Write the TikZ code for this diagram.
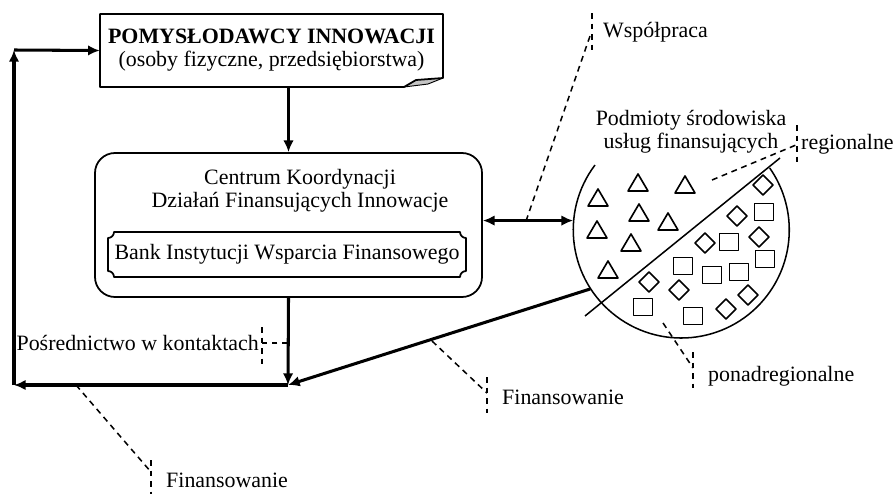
\documentclass[tikz,border=0pt]{standalone}
\usepackage{fontspec}
\setmainfont{Liberation Serif}
\usetikzlibrary{arrows.meta}
\definecolor{foldgray}{HTML}{c4c4c4}
\newcommand{\drawtriangles}{
  \foreach \x/\y in {638/183, 685/185, 598/198, 639/213, 668/222, 597/230, 631/243, 608/270} {
    \draw[symbol] (\x-10,\y+8) -- (\x,\y-9) -- (\x+10,\y+8) -- cycle;
  }
}
\newcommand{\drawdiamonds}{
  \foreach \x/\y in {763/185, 737/216, 705/243, 759/237, 649/282, 679/290, 748/295, 726/309} {
    \draw[symbol] (\x-10,\y) -- (\x,\y-10) -- (\x+10,\y) -- (\x,\y+10) -- cycle;
  }
}
\newcommand{\drawsquares}{
  \foreach \x/\y in {764/212, 729/242, 683/266, 712/275, 739/272, 765/259, 643/307, 693/316} {
    \draw[symbol] (\x-9.5,\y-8.5) rectangle (\x+9.5,\y+8.5);
  }
}

\begin{document}
\begin{tikzpicture}[x=0.03cm, y=-0.03cm, line join=round,
    every node/.style={font=\fontsize{18.7}{19.6}\selectfont, inner sep=0pt},
    box/.style={draw, line width=1.5pt},
    flow/.style={line width=2.6pt, -{Latex[length=10pt,width=9pt]}},
    lead/.style={dashed, line width=1.3pt, dash pattern=on 5pt off 4pt},
    symbol/.style={line width=1.4pt}]
    \useasboundingbox (0,0) rectangle (894,494);

    % inventors box with folded corner
    \node[align=center, minimum width=10.29cm, minimum height=2.19cm] (pomysl) at (271.5,50.5)
      {\textbf{POMYSŁODAWCY INNOWACJI}\\(osoby fizyczne, przedsiębiorstwa)};
    \fill[foldgray] (404,87) -- (416,80) -- (443,78) -- (428,84) -- cycle;
    \draw[box] (100,14) -- (443,14) -- (443,78) -- (416,80) -- (404,87) -- (100,87) -- cycle;
    \draw[line width=0.8pt] (404,87) -- (428,84) -- (443,78);

    % coordination centre
    \node[box, rounded corners=0.6cm, minimum width=11.61cm, minimum height=4.32cm] (centrum) at (288.5,225) {};
    \node[align=center] (centrumtxt) at (300,191) {Centrum Koordynacji\\Działań Finansujących Innowacje};
    \node[minimum width=10.74cm, minimum height=1.35cm] (bank) at (287,254.5) {Bank Instytucji Wsparcia Finansowego};
    \draw[box] (108,238) .. controls (111.3,238) and (114,235.3) .. (114,232) -- (460,232)
      .. controls (460,235.3) and (462.7,238) .. (466,238) -- (466,271)
      .. controls (462.7,271) and (460,273.7) .. (460,277) -- (114,277)
      .. controls (114,273.7) and (111.3,271) .. (108,271) -- cycle;

    % financing entities
    \node[circle, minimum size=6.48cm] (podm) at (681,230) {};
    \draw[line width=1.3pt] (595,165) arc[start angle=143, end angle=395, radius=3.24cm];
    \draw[line width=1.3pt] (585,316) -- (780,158);
    \drawtriangles{}
    \drawdiamonds{}
    \drawsquares{}
    \node[align=center] (podmtxt) at (691,132) {Podmioty środowiska\\usług finansujących};

    % flows
    \coordinate (join) at (288,385);
    \coordinate (bl) at (14,385);
    \coordinate (tl) at (14,50);
    \draw[flow] (centrum.north |- pomysl.south) -- (centrum.north);
    \draw[flow] (centrum.south) -- (join);
    \draw[flow] (podm.213) -- (join);
    \draw[flow] (join) -- (bl);
    \draw[flow] (bl) -- (tl);
    \draw[flow] (tl) -- (pomysl.west);
    \draw[flow, {Latex[length=10pt,width=9pt]}-{Latex[length=10pt,width=9pt]}] (podm.175 -| centrum.east) -- (podm.175);

    % labels with leaders
    \coordinate (wspfoot) at (526,221);
    \coordinate (wsptick) at (590,36);
    \draw[lead] (592,13) -- (592,50);
    \draw[lead] (wspfoot) -- (wsptick);
    \node[anchor=west] (wsp) at (603,32) {Współpraca};

    \coordinate (regfoot) at (712,180);
    \coordinate (regtick) at (796,145);
    \draw[lead] (797,125) -- (797,163);
    \draw[lead] (regfoot) -- (regtick);
    \node[anchor=west] (reg) at (801,144) {regionalne};

    \coordinate (posfoot) at (288,343);
    \coordinate (postick) at (262,343);
    \draw[lead] (262,327) -- (262,365);
    \draw[lead] (posfoot) -- (postick);
    \node[anchor=east] (pos) at (259,343) {Pośrednictwo w kontaktach};

    \coordinate (finafoot) at (76,385);
    \coordinate (finatick) at (151,472);
    \draw[lead] (151,460) -- (151,494);
    \draw[lead] (finafoot) -- (finatick);
    \node[anchor=west] (fina) at (166,480) {Finansowanie};

    \coordinate (finbfoot) at (432,341);
    \coordinate (finbtick) at (487,393);
    \draw[lead] (487,377) -- (487,413);
    \draw[lead] (finbfoot) -- (finbtick);
    \node[anchor=west] (finb) at (502,397) {Finansowanie};

    \coordinate (ponfoot) at (663,323);
    \coordinate (pontick) at (693,368);
    \draw[lead] (693,352) -- (693,388);
    \draw[lead] (ponfoot) -- (pontick);
    \node[anchor=west] (pon) at (708,376) {ponadregionalne};
\end{tikzpicture}
\end{document}
